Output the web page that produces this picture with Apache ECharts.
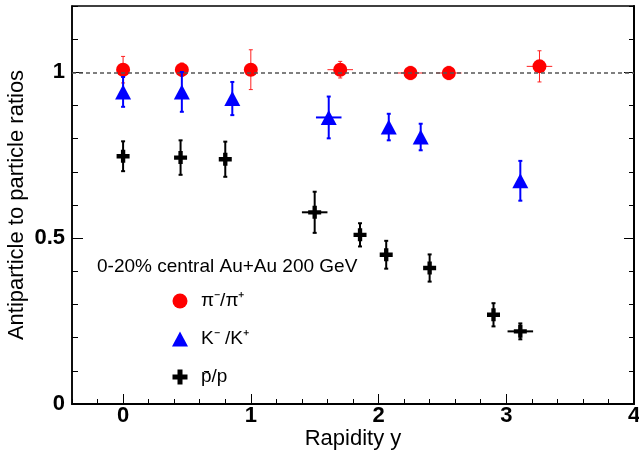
<!DOCTYPE html>
<html>
<head>
<meta charset="utf-8">
<script src="https://cdn.jsdelivr.net/npm/echarts@6/dist/echarts.min.js"></script>
<style>
html,body{margin:0;padding:0;background:#fff;}
#chart{width:639px;height:456px;}
</style>
</head>
<body>
<div id="chart"></div>
<script>
// ---- data ----
const xTickValues = [0, 1, 2, 3, 4];
const yTickValues = [0, 0.5, 1];

const pionX    = [0.0, 0.46, 1.0, 1.70, 2.25, 2.55, 3.26];
const pionY    = [1.008, 1.008, 1.008, 1.008, 0.998, 0.998, 1.018];
const pionErr  = [0.04, 0.02, 0.06, 0.025, 0.02, 0.02, 0.047];
const pionXErr = [0, 0, 0, 0.1, 0.1, 0.1, 0.1];

const kaonX    = [0.0, 0.46, 0.855, 1.61, 2.08, 2.33, 3.11];
const kaonY    = [0.941, 0.941, 0.921, 0.864, 0.835, 0.805, 0.673];
const kaonErr  = [0.045, 0.06, 0.05, 0.063, 0.04, 0.04, 0.06];
const kaonXErr = [0, 0, 0, 0.1, 0, 0, 0];

const protonX    = [0.0, 0.45, 0.80, 1.50, 1.855, 2.06, 2.40, 2.90, 3.11];
const protonY    = [0.747, 0.743, 0.738, 0.578, 0.51, 0.45, 0.41, 0.269, 0.219];
const protonErr  = [0.045, 0.052, 0.053, 0.062, 0.035, 0.042, 0.041, 0.035, 0.024];
const protonXErr = [0, 0, 0, 0.1, 0, 0, 0, 0, 0.1];

const seriesNames = ['pion', 'kaon', 'proton'];
const legendLabels = {
  pion: 'π⁻/π⁺',
  kaon: 'K⁻ /K⁺',
  proton: 'p̄/p'
};
const systemLabel = '0-20% central Au+Au 200 GeV';
const xTitle = 'Rapidity y';
const yTitle = 'Antiparticle to particle ratios';

// ---- build ----
const FONT = '"Liberation Sans", Arial, Helvetica, sans-serif';
function pts(xs, ys) { return xs.map((x, i) => [x, ys[i]]); }
function errPts(xs, ys, e, xe) { return xs.map((x, i) => [x, ys[i], e[i], xe[i]]); }

function errRender(color, width) {
  return function (params, api) {
    const x = api.value(0), y = api.value(1), e = api.value(2), xe = api.value(3);
    const lo = api.coord([x, y - e]);
    const hi = api.coord([x, y + e]);
    const cap = 2;
    const children = [
      { type: 'line', shape: { x1: lo[0], y1: lo[1], x2: hi[0], y2: hi[1] }, style: { stroke: color, lineWidth: width } },
      { type: 'line', shape: { x1: lo[0] - cap, y1: lo[1], x2: lo[0] + cap, y2: lo[1] }, style: { stroke: color, lineWidth: width } },
      { type: 'line', shape: { x1: hi[0] - cap, y1: hi[1], x2: hi[0] + cap, y2: hi[1] }, style: { stroke: color, lineWidth: width } }
    ];
    if (xe > 0) {
      const l = api.coord([x - xe, y]);
      const r = api.coord([x + xe, y]);
      children.push({ type: 'line', shape: { x1: l[0], y1: l[1], x2: r[0], y2: r[1] }, style: { stroke: color, lineWidth: width } });
    }
    return { type: 'group', children: children };
  };
}

const crossPath = 'path://M4,0h4v4h4v4h-4v4h-4v-4h-4v-4h4z';

const chart = echarts.init(document.getElementById('chart'), null, { renderer: 'canvas' });

chart.setOption({
  animation: false,
  backgroundColor: '#fff',
  grid: { left: 72, right: 5, top: 6, bottom: 52, outerBoundsMode: 'none', containLabel: false, show: true, borderColor: '#000', borderWidth: 1.5, backgroundColor: 'transparent' },
  xAxis: [
    {
      type: 'value', min: -0.4, max: 4, interval: 0.2, position: 'bottom',
      axisLine: { show: true, onZero: false, lineStyle: { color: '#000', width: 2 } },
      axisTick: { show: true, inside: true, length: 5, lineStyle: { color: '#000', width: 1 } },
      axisLabel: { customValues: xTickValues, color: '#000', fontFamily: FONT, fontWeight: 'bold', fontSize: 22, margin: 1 },
      splitLine: { show: false },
      name: xTitle, nameLocation: 'middle', nameGap: 24, nameMoveOverlap: false,
      nameTextStyle: { color: '#000', fontFamily: FONT, fontSize: 22 }
    },
    {
      type: 'value', min: -0.4, max: 4, position: 'bottom',
      axisLine: { show: false, onZero: false },
      axisTick: { show: true, inside: true, length: 10, customValues: xTickValues, lineStyle: { color: '#000', width: 1 } },
      axisLabel: { show: false },
      splitLine: { show: false }
    }
  ],
  yAxis: [
    {
      type: 'value', min: 0, max: 1.2, interval: 0.1, position: 'left',
      axisLine: { show: true, onZero: false, lineStyle: { color: '#000', width: 1.5 } },
      axisTick: { show: true, inside: true, length: 6, lineStyle: { color: '#000', width: 1 } },
      axisLabel: { customValues: yTickValues, color: '#000', fontFamily: FONT, fontWeight: 'bold', fontSize: 22, margin: 7 },
      splitLine: { show: false },
      name: yTitle, nameLocation: 'middle', nameGap: 44, nameMoveOverlap: false,
      nameTextStyle: { color: '#000', fontFamily: FONT, fontSize: 22 }
    },
    {
      type: 'value', min: 0, max: 1.2, position: 'left',
      axisLine: { show: false, onZero: false },
      axisTick: { show: true, inside: true, length: 11, customValues: yTickValues, lineStyle: { color: '#000', width: 1 } },
      axisLabel: { show: false },
      splitLine: { show: false }
    },
    {
      type: 'value', min: 0, max: 1.2, interval: 0.1, position: 'right',
      axisLine: { show: true, onZero: false, lineStyle: { color: '#000', width: 2 } },
      axisTick: { show: true, inside: true, length: 5, lineStyle: { color: '#000', width: 1 } },
      axisLabel: { show: false },
      splitLine: { show: false }
    },
    {
      type: 'value', min: 0, max: 1.2, position: 'right',
      axisLine: { show: false, onZero: false },
      axisTick: { show: true, inside: true, length: 10, customValues: yTickValues, lineStyle: { color: '#000', width: 1 } },
      axisLabel: { show: false },
      splitLine: { show: false }
    }
  ],
  legend: {
    orient: 'vertical', left: 167, top: 286,
    itemWidth: 16, itemHeight: 15, itemGap: 18,
    data: seriesNames,
    formatter: function (n) { return legendLabels[n]; },
    textStyle: { color: '#000', fontFamily: FONT, fontSize: 19, lineHeight: 20, padding: [0, 0, 0, 8] }
  },
  graphic: [
    {
      type: 'text', left: 97, top: 257,
      style: { text: systemLabel, fill: '#000', font: '19px ' + FONT }
    }
  ],
  series: [
    {
      type: 'line', name: 'refline', data: [], silent: true, z: 1,
      markLine: {
        silent: true, symbol: 'none', label: { show: false },
        lineStyle: { color: '#555', type: [4, 3], width: 1.5 },
        data: [{ yAxis: 1 }]
      }
    },
    { type: 'custom', name: 'pionErr', renderItem: errRender('#ff2020', 1), data: errPts(pionX, pionY, pionErr, pionXErr), z: 3 },
    { type: 'scatter', name: 'pion', data: pts(pionX, pionY), symbol: 'circle', symbolSize: 14, itemStyle: { color: '#ff0000', opacity: 1 }, z: 4 },
    { type: 'custom', name: 'kaonErr', renderItem: errRender('#0000ff', 2), data: errPts(kaonX, kaonY, kaonErr, kaonXErr), z: 5 },
    { type: 'scatter', name: 'kaon', data: pts(kaonX, kaonY), symbol: 'triangle', symbolSize: [16, 15], itemStyle: { color: '#0000ff', opacity: 1 }, z: 6 },
    { type: 'custom', name: 'protonErr', renderItem: errRender('#000000', 2), data: errPts(protonX, protonY, protonErr, protonXErr), z: 7 },
    { type: 'scatter', name: 'proton', data: pts(protonX, protonY), symbol: crossPath, symbolSize: 13, itemStyle: { color: '#000000', opacity: 1 }, z: 8 }
  ]
});
</script>
</body>
</html>
